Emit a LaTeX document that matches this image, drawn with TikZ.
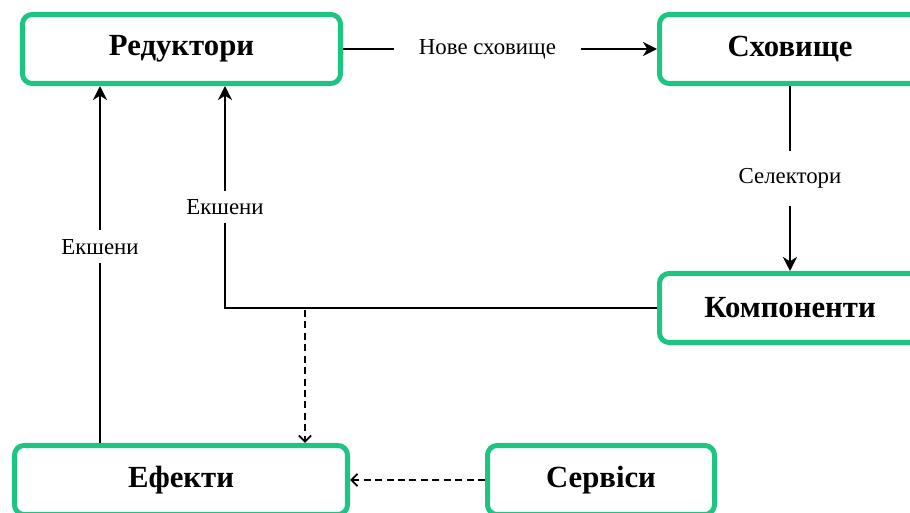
\documentclass[tikz,border=0pt]{standalone}
\usepackage{fontspec}
\setmainfont{Liberation Serif}
\usetikzlibrary{arrows.meta,calc}
\definecolor{boxgreen}{RGB}{30,196,130}

\begin{document}
\begin{tikzpicture}[x=0.02cm, y=-0.02cm,
    box/.style={draw=boxgreen, line width=2.85pt, rounded corners=5.5pt, fill=white,
      font=\fontsize{17.5}{20}\selectfont\bfseries, minimum height=69*0.02cm},
    flow/.style={line width=1.1pt, -{Stealth[length=8pt, width=8pt, inset=2.5pt]}},
    dflow/.style={line width=1.1pt, dash pattern=on 4pt off 2.5pt, -{Straight Barb[length=3.5pt, width=7pt]}},
    lbl/.style={fill=white, font=\fontsize{13}{15}\selectfont, inner sep=5pt}]
  % Canvas (boxes on the right and bottom run off the edge)
  \useasboundingbox (0,0) rectangle (910,513);
  \clip (0,0) rectangle (910,513);

  % Boxes
  \node[box, minimum width=318*0.02cm] (redux) at (181.5,49) {Редуктори};
  \node[box, minimum width=261*0.02cm] (store) at (790,49) {Сховище};
  \node[box, minimum width=261*0.02cm] (comps) at (790,308) {Компоненти};
  \node[box, minimum width=333*0.02cm] (effects) at (181,480) {Ефекти};
  \node[box, minimum width=227*0.02cm] (services) at (601,480) {Сервіси};

  % Turning points
  \coordinate (actcorner) at (225,308);
  \coordinate (effdrop) at (305,308);
  \coordinate (effup) at (100,0);

  % Reducers -> store
  \draw[flow] (redux.east) -- node[lbl, inner xsep=14pt, pos=0.46] {Нове сховище} (store.west);
  % Store -> components
  \draw[flow] (store.south) -- node[lbl, inner ysep=10pt, pos=0.5] {Селектори} (comps.north);
  % Components -> reducers
  \draw[flow] (comps.west) -- (actcorner) -- node[lbl, pos=0.455] {Екшени} (redux.south -| actcorner);
  % Effects -> reducers
  \draw[flow] (effects.north -| effup) -- node[lbl, pos=0.55] {Екшени} (redux.south -| effup);
  % Components -> effects
  \draw[dflow] (comps.west) -- (effdrop) -- (effects.north -| effdrop);
  % Services -> effects
  \draw[dflow] (services.west) -- (effects.east);
\end{tikzpicture}
\end{document}
